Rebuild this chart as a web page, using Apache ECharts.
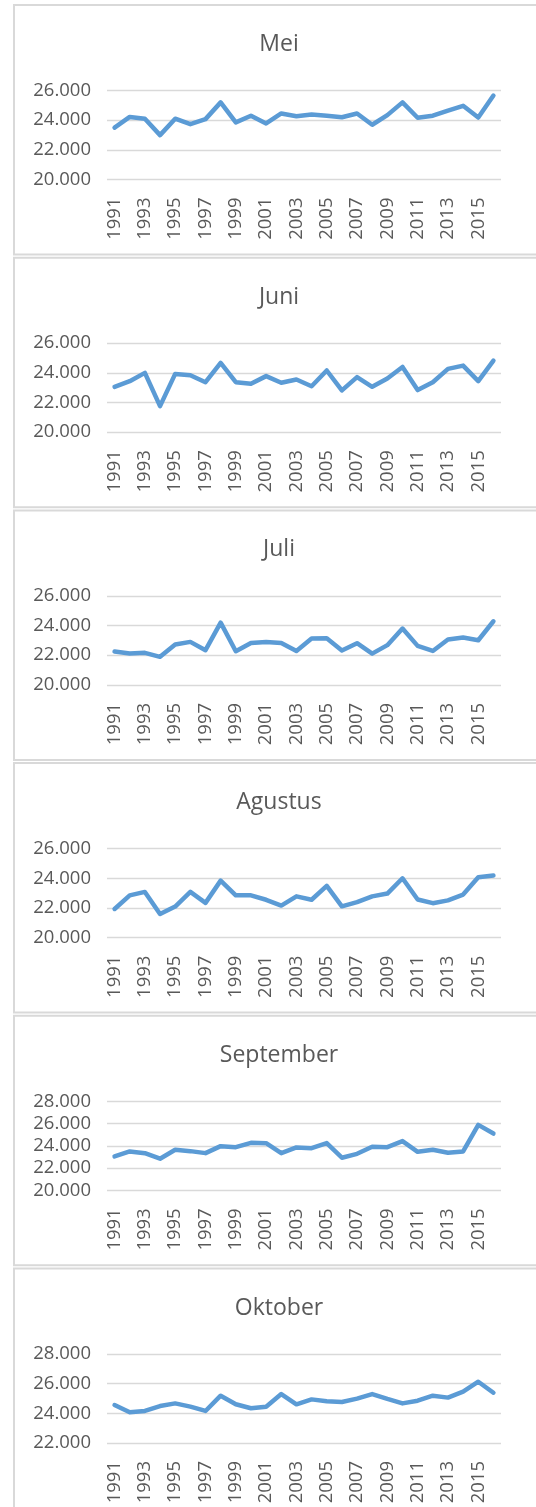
<!DOCTYPE html>
<html>
<head>
<meta charset="utf-8">
<script src="https://cdn.jsdelivr.net/npm/echarts@6/dist/echarts.min.js"></script>
<style>
html,body{margin:0;padding:0;background:#ffffff;}
#c{width:536px;height:1507px;}
</style>
</head>
<body>
<div id="c"></div>
<script>
// ---- data ----
const years = ['1991','1992','1993','1994','1995','1996','1997','1998','1999','2000',
               '2001','2002','2003','2004','2005','2006','2007','2008','2009','2010',
               '2011','2012','2013','2014','2015','2016'];
const titles = ['Mei','Juni','Juli','Agustus','September','Oktober'];

const mei = [23.50,24.22,24.10,22.99,24.10,23.73,24.07,25.20,23.85,24.30,
             23.78,24.45,24.27,24.38,24.30,24.20,24.45,23.69,24.34,25.20,
             24.16,24.30,24.65,24.97,24.18,25.66];
const juni = [23.06,23.44,24.00,21.76,23.93,23.84,23.37,24.67,23.37,23.26,
              23.78,23.33,23.55,23.10,24.16,22.82,23.71,23.06,23.62,24.40,
              22.84,23.37,24.27,24.49,23.44,24.83];
const juli = [22.25,22.11,22.16,21.89,22.72,22.90,22.34,24.20,22.27,22.83,
              22.90,22.83,22.29,23.12,23.14,22.32,22.81,22.11,22.68,23.80,
              22.63,22.29,23.06,23.19,23.01,24.29];
const agustus = [21.93,22.85,23.08,21.59,22.09,23.08,22.34,23.84,22.85,22.85,
                 22.55,22.16,22.78,22.55,23.49,22.11,22.39,22.78,22.97,24.00,
                 22.57,22.32,22.51,22.90,24.07,24.18];
const september = [23.04,23.49,23.34,22.84,23.64,23.52,23.34,23.97,23.88,24.27,
                   24.24,23.34,23.85,23.79,24.24,22.93,23.28,23.91,23.88,24.42,
                   23.46,23.64,23.37,23.49,25.88,25.10];
const oktober = [24.56,24.07,24.16,24.49,24.67,24.45,24.16,25.19,24.61,24.34,
                 24.45,25.30,24.61,24.94,24.81,24.76,24.99,25.30,24.97,24.67,
                 24.85,25.19,25.06,25.46,26.13,25.39];

// y-axis tick ranges per panel (ticks every 2)
const yMin = [20, 20, 20, 20, 20, 22];
const yMax = [26, 26, 26, 26, 28, 28];
const yStep = 2;

const seriesData = [mei, juni, juli, agustus, september, oktober];

// ---- layout ----
const FONT = 'Open Sans';
const TXT = '#595959';
const GRIDC = '#d9d9d9';
const LINEC = '#5b9bd5';
const panelTop0 = 5, panelPitch = 252.7, panelH = 249.5;

const titleOpts = [], grids = [], xAxes = [], yAxes = [], series = [], graphics = [];

seriesData.forEach((d, i) => {
  const pt = panelTop0 + panelPitch * i;
  graphics.push({
    type: 'rect', silent: true, z: -10,
    shape: { x: 14, y: pt, width: 560, height: panelH },
    style: { fill: '#ffffff', stroke: GRIDC, lineWidth: 2 }
  });
  titleOpts.push({
    text: titles[i], left: 279, top: pt + 28, textAlign: 'center', padding: 0,
    textStyle: { fontFamily: FONT, fontSize: 23, fontWeight: 'normal', color: TXT }
  });
  grids.push({ left: 107, width: 394, top: pt + 85.5, height: 89, containLabel: false, outerBoundsMode: 'none' });
  xAxes.push({
    type: 'category', gridIndex: i, data: years, boundaryGap: true,
    axisLine: { show: false }, axisTick: { show: false },
    axisLabel: { interval: 1, rotate: 90, margin: 18, fontFamily: FONT, fontSize: 18.5, color: TXT }
  });
  yAxes.push({
    type: 'value', gridIndex: i, min: yMin[i], max: yMax[i], interval: yStep,
    axisLine: { show: false }, axisTick: { show: false },
    splitLine: { show: true, lineStyle: { color: GRIDC, width: 1.3 } },
    axisLabel: { margin: 16, fontFamily: FONT, fontSize: 18.5, color: TXT,
                 formatter: v => v.toFixed(3) }
  });
  series.push({
    type: 'line', xAxisIndex: i, yAxisIndex: i, data: d, symbol: 'none',
    lineStyle: { color: LINEC, width: 4.5, cap: 'round', join: 'round' },
    itemStyle: { color: LINEC }, animation: false
  });
});

const chart = echarts.init(document.getElementById('c'), null, { renderer: 'canvas' });
chart.setOption({
  backgroundColor: '#ffffff',
  animation: false,
  title: titleOpts,
  grid: grids,
  xAxis: xAxes,
  yAxis: yAxes,
  series: series,
  graphic: graphics
});
</script>
</body>
</html>
